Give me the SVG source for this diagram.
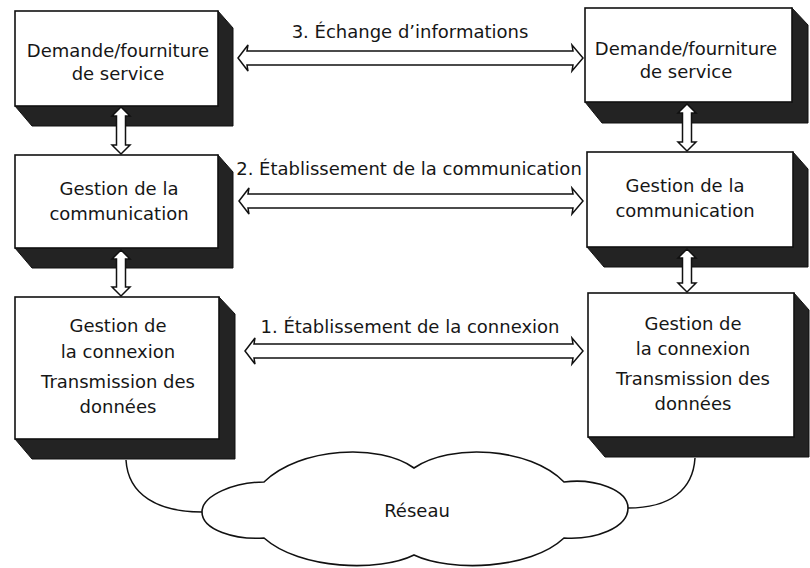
<svg xmlns="http://www.w3.org/2000/svg" width="810" height="568" viewBox="0 0 810 568">
<style>
.face{fill:#fff;stroke:#111;stroke-width:1.6}
.shadow{fill:#232323;stroke:#111;stroke-width:1}
.arr{fill:#fff;stroke:#111;stroke-width:1.5;stroke-linejoin:miter}
.t{font-family:"DejaVu Sans","Open Sans",sans-serif;font-size:18px;fill:#161616;text-anchor:middle}
.ln{fill:none;stroke:#111;stroke-width:1.5}
</style>
<rect width="810" height="568" fill="#fff"/>

<g id="left-service">
<polygon class="shadow" points="218,11 233,28 233,126 32,126 15,106"/>
<rect class="face" x="15" y="11" width="203" height="95"/>
<text class="t" x="118" y="57">Demande/fourniture</text>
<text class="t" x="118" y="80">de service</text>
</g>

<g id="left-communication">
<polygon class="shadow" points="218,155 233,172 233,268 32,268 15,248"/>
<rect class="face" x="15" y="155" width="203" height="93"/>
<text class="t" x="119" y="195">Gestion de la</text>
<text class="t" x="119" y="220">communication</text>
</g>

<g id="left-connexion">
<polygon class="shadow" points="219,297 235,314 235,459 32,459 15,439"/>
<rect class="face" x="15" y="297" width="204" height="142"/>
<text class="t" x="118" y="332">Gestion de</text>
<text class="t" x="118" y="358">la connexion</text>
<text class="t" x="118" y="388">Transmission des</text>
<text class="t" x="118" y="413">données</text>
</g>

<g id="right-service">
<polygon class="shadow" points="792,8 808,25 808,123 602,123 585,102"/>
<rect class="face" x="585" y="8" width="207" height="94"/>
<text class="t" x="686" y="55">Demande/fourniture</text>
<text class="t" x="686" y="78">de service</text>
</g>

<g id="right-communication">
<polygon class="shadow" points="793,152 808,169 808,267 604,267 587,247"/>
<rect class="face" x="587" y="152" width="206" height="95"/>
<text class="t" x="685" y="192">Gestion de la</text>
<text class="t" x="685" y="217">communication</text>
</g>

<g id="right-connexion">
<polygon class="shadow" points="794,293 809,310 809,457 605,457 588,437"/>
<rect class="face" x="588" y="293" width="206" height="144"/>
<text class="t" x="693" y="330">Gestion de</text>
<text class="t" x="693" y="355">la connexion</text>
<text class="t" x="693" y="385">Transmission des</text>
<text class="t" x="693" y="410">données</text>
</g>

<g id="reseau">
<path class="face" d="M202 512 C202 495 235 482 264 482 C300 447 380 443 414 468 C450 443 530 447 564 482 C595 478 628 490 628 508 C628 528 595 540 564 538 C530 570 450 572 414 555 C380 572 300 570 264 538 C235 540 202 530 202 512 Z"/>
<text class="t" x="417" y="517">Réseau</text>
</g>

<g id="connectors">
<path class="arr" d="M121 107 L130 116 L125.5 116 L125.5 145 L130 145 L121 154 L112 145 L116.5 145 L116.5 116 L112 116 Z"/>
<path class="arr" d="M121 250 L130 259 L125.5 259 L125.5 287 L130 287 L121 296 L112 287 L116.5 287 L116.5 259 L112 259 Z"/>
<path class="arr" d="M687 104 L696 113 L691.5 113 L691.5 142 L696 142 L687 151 L678 142 L682.5 142 L682.5 113 L678 113 Z"/>
<path class="arr" d="M687 249 L696 258 L691.5 258 L691.5 283 L696 283 L687 292 L678 283 L682.5 283 L682.5 258 L678 258 Z"/>

<path class="arr" d="M238 58 L248 45 L247 51 L573 51 L572 45 L583 58 L572 71 L573 65 L247 65 L248 71 Z"/>
<path class="arr" d="M239 201 L249 188 L248 194 L573 194 L572 188 L583 201 L572 214 L573 208 L248 208 L249 214 Z"/>
<path class="arr" d="M245 351 L255 338 L254 344 L573 344 L572 338 L583 351 L572 364 L573 358 L254 358 L255 364 Z"/>

<path class="ln" d="M126 460 C128 495 158 512 202 512"/>
<path class="ln" d="M695 458 C693 490 670 508 628 508"/>
</g>

<text class="t" x="410" y="38">3. Échange d’informations</text>
<text class="t" x="409" y="175">2. Établissement de la communication</text>
<text class="t" x="410" y="333">1. Établissement de la connexion</text>
</svg>
